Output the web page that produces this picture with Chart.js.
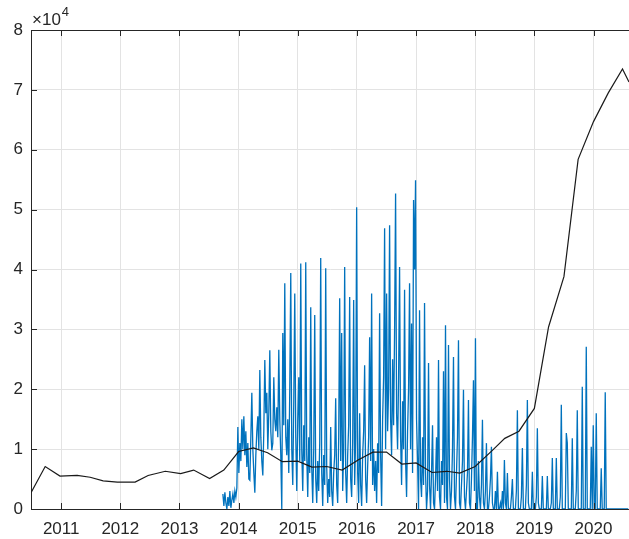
<!DOCTYPE html>
<html><head><meta charset="utf-8">
<script src="https://cdn.jsdelivr.net/npm/chart.js@4"></script>
<style>html,body{margin:0;padding:0;background:#fff;overflow:hidden}#wrap{width:629px;height:539px;position:relative}</style>
</head><body><div id="wrap"><canvas id="c" width="629" height="539"></canvas></div>
<script>
// x axis: decimal years; y values in units of 10^4
const yearTicks = [2011, 2012, 2013, 2014, 2015, 2016, 2017, 2018, 2019, 2020];
const yTicks = [0, 1, 2, 3, 4, 5, 6, 7, 8];
const xRange = [2010.49, 2020.6];

const blackYears = [2010.49, 2010.73, 2010.98, 2011.27, 2011.49, 2011.71, 2011.95, 2012.25, 2012.47, 2012.76, 2013.02, 2013.24, 2013.51, 2013.75, 2014.0, 2014.25, 2014.49, 2014.74, 2015.0, 2015.24, 2015.49, 2015.75, 2016.02, 2016.27, 2016.5, 2016.76, 2017.0, 2017.27, 2017.52, 2017.74, 2018.0, 2018.29, 2018.5, 2018.74, 2019.0, 2019.24, 2019.5, 2019.74, 2020.0, 2020.25, 2020.49, 2020.6];
const blackValues = [0.27, 0.71, 0.55, 0.56, 0.53, 0.47, 0.45, 0.45, 0.56, 0.63, 0.59, 0.65, 0.51, 0.65, 0.96, 1.02, 0.94, 0.79, 0.80, 0.70, 0.71, 0.65, 0.82, 0.95, 0.95, 0.75, 0.77, 0.61, 0.63, 0.60, 0.71, 0.98, 1.18, 1.30, 1.68, 3.04, 3.88, 5.84, 6.47, 6.95, 7.35, 7.13];

const blueStartYear = 2013.734;
const blueStepYears = 0.016878; // about 6 days
const blueValues = [
0.25,0.05,0.28,0.1,0.0,0.2,0.05,0.3,0.02,0.15,0.25,0.1,0.3,0.2,0.35,
1.37,0.6,1.1,0.8,1.5,1.0,1.55,0.9,1.3,0.7,
1.1,0.5,0.48,1.2,1.94,1.0,0.6,0.27,0.9,1.3,
1.55,1.0,2.32,1.2,0.8,0.56,1.3,2.49,1.6,1.94,
1.0,1.6,2.65,1.3,0.98,1.1,2.2,1.5,1.3,1.7,
1.2,2.66,1.5,0.9,0.0,2.94,1.4,3.77,1.2,0.9,
1.5,0.6,2.0,3.94,1.0,0.4,1.8,3.6,1.2,0.3,
1.5,2.2,0.8,4.1,1.0,0.3,1.4,0.8,4.12,0.9,
0.2,1.2,0.6,3.37,0.7,0.1,1.0,3.24,0.5,0.1,
0.8,0.3,1.1,4.19,0.6,0.05,0.9,0.4,4.02,0.7,
0.1,0.5,0.2,1.37,0.3,0.05,0.6,0.9,1.85,0.4,
0.1,1.2,3.52,0.8,2.94,0.3,1.0,4.04,0.6,0.1,
0.9,1.4,3.54,0.5,0.2,1.1,3.49,0.4,1.2,5.04,
0.6,0.1,1.6,0.4,0.05,0.9,1.3,2.4,0.5,0.1,
0.7,1.2,2.87,0.8,3.6,0.4,1.0,0.3,0.8,0.1,
1.1,0.6,3.27,0.9,0.05,1.5,2.2,4.69,1.0,3.6,
1.3,2.0,4.74,1.5,0.9,2.5,1.4,3.0,5.27,1.6,
1.0,2.2,4.04,1.2,0.4,1.8,1.0,3.66,0.8,0.2,
1.3,2.0,3.77,1.0,3.1,0.6,5.16,4.0,5.49,1.5,
0.8,0.0,3.32,0.5,0.2,1.2,0.4,3.44,0.6,0.0,
0.3,2.44,0.4,0.0,0.6,1.4,0.1,0.0,0.5,1.2,
0.3,2.49,0.2,0.0,0.8,0.4,2.3,0.1,3.07,0.2,
0.0,2.74,0.5,0.0,0.3,1.0,2.54,0.2,0.0,0.6,
1.2,2.82,0.1,0.0,0.4,0.8,1.99,0.2,0.0,0.3,
0.6,1.82,0.1,0.0,0.5,1.2,2.15,0.3,2.85,0.0,
0.0,0.8,0.2,0.0,0.4,1.49,0.1,0.0,0.3,1.1,
0.0,0.0,0.2,0.5,1.04,0.1,0.0,0.0,0.3,0.0,
0.62,0.0,0.0,0.1,0.0,0.3,0.0,0.82,0.1,0.0,
0.6,0.0,0.0,0.0,0.2,0.5,0.0,0.0,0.0,0.3,
1.65,0.0,0.0,0.0,0.2,1.02,0.0,0.0,0.0,0.4,
1.82,0.1,0.0,0.0,0.0,0.62,0.0,0.0,0.0,0.2,
1.35,0.1,0.0,0.0,0.0,0.55,0.0,0.0,0.0,0.0,
0.55,0.0,0.0,0.0,0.1,0.85,0.0,0.0,0.0,0.85,
0.0,0.0,0.0,0.2,1.74,0.0,0.0,0.0,0.0,1.27,
1.1,0.0,0.0,0.0,0.0,1.18,0.0,0.0,0.0,0.3,
1.65,0.0,0.0,0.0,0.0,2.04,0.0,0.0,0.0,2.71,
0.0,0.0,0.0,0.0,1.04,0.0,1.4,0.0,0.0,1.6,
0.0,0.0,0.0,0.0,0.68,0.0,0.0,0.0,1.95,0.0,
0,0,0,0,0,0,0,0,0,0,0,0,0,0,0,0,0,0,0,0,0,0
];

const blackData = blackYears.map((t, i) => ({x: t, y: blackValues[i]}));
const blueData = blueValues.map((v, i) => ({x: blueStartYear + i * blueStepYears, y: v}));

const TXT = '#262626';
const FONT = '"Liberation Sans", Arial, Helvetica, sans-serif';

const decor = {
  id: 'decor',
  afterDraw(chart) {
    const {ctx, chartArea: a, scales: {x, y}} = chart;
    ctx.save();
    ctx.strokeStyle = TXT; ctx.lineWidth = 1;
    ctx.beginPath();
    ctx.moveTo(a.left, Math.round(a.top) + 0.5); ctx.lineTo(a.right, Math.round(a.top) + 0.5);
    yearTicks.forEach(v => {
      const px = Math.round(x.getPixelForValue(v)) + 0.5;
      ctx.moveTo(px, a.bottom); ctx.lineTo(px, a.bottom - 6);
      ctx.moveTo(px, a.top); ctx.lineTo(px, a.top + 6);
    });
    yTicks.forEach(v => {
      const py = Math.round(y.getPixelForValue(v)) + 0.5;
      ctx.moveTo(a.left, py); ctx.lineTo(a.left + 6, py);
    });
    ctx.stroke();
    ctx.fillStyle = TXT; ctx.textBaseline = 'alphabetic'; ctx.textAlign = 'left';
    ctx.font = '17px ' + FONT;
    ctx.fillText('\u00d710', a.left + 1, a.top - 5);
    const w = ctx.measureText('\u00d710').width;
    ctx.font = '13px ' + FONT;
    ctx.fillText('4', a.left + 1 + w + 1, a.top - 14);
    ctx.restore();
  }
};

new Chart(document.getElementById('c'), {
  type: 'line',
  data: {
    datasets: [
      {data: blackData, borderColor: '#1a1a1a', borderWidth: 1.2, pointRadius: 0, tension: 0, order: 0},
      {data: blueData, borderColor: '#0072BD', borderWidth: 1.3, pointRadius: 0, tension: 0, order: 1}
    ]
  },
  options: {
    responsive: false, animation: false, devicePixelRatio: 1,
    layout: {padding: {top: 30, right: 0, left: 0, bottom: 0}},
    plugins: {legend: {display: false}, tooltip: {enabled: false}},
    scales: {
      x: {
        type: 'linear', min: xRange[0], max: xRange[1],
        afterBuildTicks: s => { s.ticks = yearTicks.map(v => ({value: v})); },
        afterFit: s => { s.height = 30; },
        ticks: {callback: v => String(v), color: TXT, font: {family: FONT, size: 17}, padding: 10, maxRotation: 0, autoSkip: false},
        grid: {color: '#e3e3e3', drawTicks: false},
        border: {display: true, color: TXT, width: 1}
      },
      y: {
        min: 0, max: 8,
        afterBuildTicks: s => { s.ticks = yTicks.map(v => ({value: v})); },
        afterFit: s => { s.width = 31; },
        ticks: {color: TXT, font: {family: FONT, size: 17}, padding: 8},
        grid: {color: '#e3e3e3', drawTicks: false},
        border: {display: true, color: TXT, width: 1}
      }
    }
  },
  plugins: [decor]
});
</script>
</body></html>
